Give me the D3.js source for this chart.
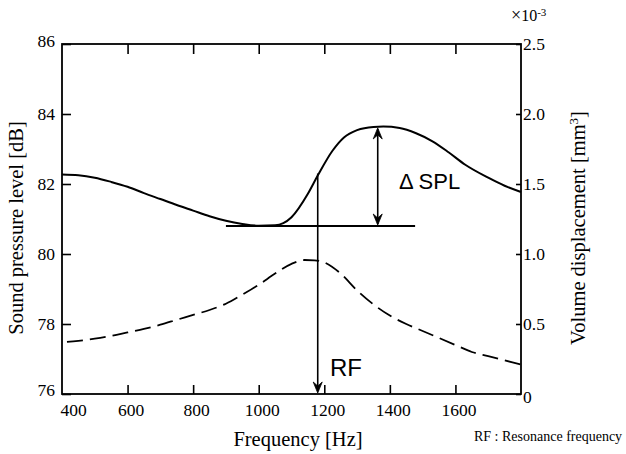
<!DOCTYPE html>
<html><head><meta charset="utf-8">
<script src="https://cdn.jsdelivr.net/npm/d3@7"></script>
<style>body{margin:0;background:#fff}svg{display:block}</style>
</head><body><svg id="c" width="626" height="454"></svg>
<script>
// ---- data ----
const splFreq = [400,450,500,550,600,650,700,750,800,850,900,950,1000,1050,1075,1100,1150,1180,1225,1260,1300,1350,1380,1430,1480,1530,1580,1630,1700,1750,1800];
const splValues = [82.27,82.25,82.18,82.06,81.92,81.74,81.57,81.40,81.24,81.08,80.95,80.86,80.81,80.82,80.88,81.05,81.72,82.24,82.95,83.33,83.54,83.63,83.64,83.60,83.45,83.22,82.90,82.55,82.18,81.95,81.77];
const volFreq = [400,450,500,550,600,650,700,750,800,850,900,950,1000,1050,1100,1140,1170,1200,1250,1300,1350,1400,1450,1500,1550,1600,1650,1700,1750,1800];
const volValues = [0.37,0.38,0.395,0.415,0.44,0.465,0.495,0.53,0.565,0.60,0.645,0.71,0.78,0.86,0.93,0.957,0.955,0.94,0.86,0.74,0.64,0.56,0.50,0.45,0.40,0.35,0.30,0.27,0.24,0.21];
const xTicks = [400,600,800,1000,1200,1400,1600];
const leftTicks = [76,78,80,82,84,86];
const rightTicks = [0,0.5,1.0,1.5,2.0,2.5];
const rightTickLabels = ["0","0.5","1.0","1.5","2.0","2.5"];
const baseLevel = 80.8, baseFrom = 900, baseTo = 1477;
const dsplFreq = 1363, dsplTop = 83.63;
const rfFreq = 1180, rfTop = 82.3;

// ---- layout ----
const L = 62, R = 521, T = 44, B = 394;
const svg = d3.select("#c");
const x = d3.scaleLinear().domain([400,1800]).range([L,R]);
const yL = d3.scaleLinear().domain([76,86]).range([B,T]);
const yR = d3.scaleLinear().domain([0,2.5]).range([B,T]);
const serif = "Liberation Serif, Times New Roman, serif";
const sans = "Liberation Sans, Arial, sans-serif";

function styleAxis(g){
  g.attr("font-family",serif).attr("font-size",17.5);
  g.select(".domain").remove();
  g.selectAll(".tick line").attr("stroke","#000").attr("stroke-width",1.6);
  g.selectAll(".tick text").style("font-family",serif).style("font-size","17.5px").attr("fill","#000");
}
// bottom
const gb = svg.append("g").attr("transform",`translate(0,${B})`)
  .call(d3.axisBottom(x).tickValues(xTicks).tickSize(-9).tickPadding(10).tickFormat(d3.format("d")));
styleAxis(gb);
gb.selectAll(".tick").filter(d=>d===400).select("line").remove();
gb.selectAll(".tick text").attr("dx",function(d){return d===400?11:3;});
// top
const gt = svg.append("g").attr("transform",`translate(0,${T})`)
  .call(d3.axisTop(x).tickValues(xTicks.filter(d=>d>400)).tickSize(-10).tickFormat(""));
styleAxis(gt);
// left
const gl = svg.append("g").attr("transform",`translate(${L},0)`)
  .call(d3.axisLeft(yL).tickValues(leftTicks).tickSize(-9).tickPadding(7).tickFormat(d3.format("d")));
styleAxis(gl);
gl.selectAll(".tick text").attr("dy",function(d){return d===86?"0.15em":"0.32em";});
gl.selectAll(".tick").filter(d=>d===76).select("text").attr("dy","0.1em");
// right
const gr = svg.append("g").attr("transform",`translate(${R},0)`)
  .call(d3.axisRight(yR).tickValues(rightTicks).tickSize(-5).tickPadding(2).tickFormat((d,i)=>rightTickLabels[i]));
styleAxis(gr);
gr.selectAll(".tick").filter(d=>d===0).select("text").attr("dy","0.5em");

// frame
svg.append("rect").attr("x",L).attr("y",T).attr("width",R-L).attr("height",B-T)
  .attr("fill","none").attr("stroke","#000").attr("stroke-width",1.8);

// curves
svg.append("path").datum(splFreq.map((f,i)=>[f,splValues[i]]))
  .attr("fill","none").attr("stroke","#000").attr("stroke-width",2)
  .attr("d",d3.line().x(d=>x(d[0])).y(d=>yL(d[1])).curve(d3.curveMonotoneX));
svg.append("path").datum(volFreq.map((f,i)=>[f,volValues[i]]))
  .attr("fill","none").attr("stroke","#000").attr("stroke-width",1.8)
  .attr("stroke-dasharray","16,7").attr("stroke-dashoffset",18)
  .attr("d",d3.line().x(d=>x(d[0])).y(d=>yR(d[1])).curve(d3.curveMonotoneX));

// annotations
function arrowHead(px,py,dir){ // dir: 1 = pointing down, -1 = pointing up
  const p = d3.path();
  p.moveTo(px,py); p.lineTo(px-4.5,py-11*dir); p.lineTo(px,py-7*dir); p.lineTo(px+4.5,py-11*dir); p.closePath();
  svg.append("path").attr("d",p.toString()).attr("fill","#000").attr("stroke","#000").attr("stroke-width",0.8).attr("stroke-linejoin","miter");
}
svg.append("line").attr("x1",x(baseFrom)).attr("x2",x(baseTo)).attr("y1",yL(baseLevel)).attr("y2",yL(baseLevel))
  .attr("stroke","#000").attr("stroke-width",1.8);
svg.append("line").attr("x1",x(dsplFreq)).attr("x2",x(dsplFreq)).attr("y1",yL(dsplTop)+2).attr("y2",yL(baseLevel)-2)
  .attr("stroke","#000").attr("stroke-width",1.6);
arrowHead(x(dsplFreq),yL(dsplTop)+1,-1);
arrowHead(x(dsplFreq),yL(baseLevel)-1,1);
svg.append("line").attr("x1",x(rfFreq)).attr("x2",x(rfFreq)).attr("y1",yL(rfTop)).attr("y2",yL(76)-3)
  .attr("stroke","#000").attr("stroke-width",1.6);
arrowHead(x(rfFreq),yL(76)-1,1);

svg.append("text").attr("x",399).attr("y",189).style("font-family",sans).style("font-size","22px").text("Δ SPL");
svg.append("text").attr("x",330).attr("y",376).style("font-family",sans).style("font-size","24px").text("RF");

// titles
svg.append("text").attr("x",298).attr("y",446).attr("text-anchor","middle").style("font-family",serif).style("font-size","20.5px").text("Frequency [Hz]");
svg.append("text").attr("transform","translate(23,228) rotate(-90)").attr("text-anchor","middle").style("font-family",serif).style("font-size","20.5px").text("Sound pressure level [dB]");
const rt = svg.append("text").attr("transform","translate(585,228) rotate(-90)").attr("text-anchor","middle").style("font-family",serif).style("font-size","20.5px");
rt.append("tspan").text("Volume displacement [mm");
rt.append("tspan").attr("dy",-7).style("font-size","13px").text("3");
rt.append("tspan").attr("dy",7).text("]");
const mt = svg.append("text").attr("x",511).attr("y",21).style("font-family",serif).style("font-size","16px");
mt.append("tspan").style("font-size","18px").text("×");
mt.append("tspan").text("10");
mt.append("tspan").attr("dy",-5).style("font-size","11px").text("-3");
svg.append("text").attr("x",474).attr("y",441).style("font-family",serif).style("font-size","14px").text("RF : Resonance frequency");
</script></body></html>
